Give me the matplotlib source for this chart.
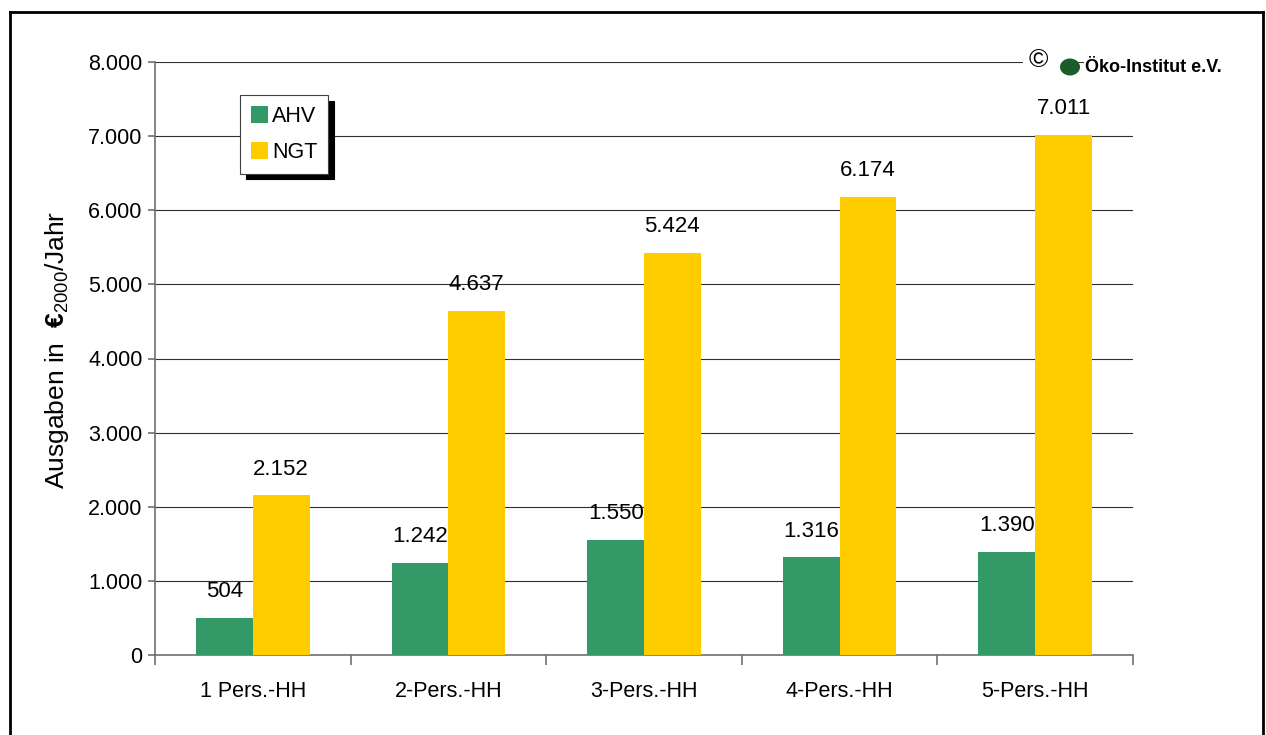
import matplotlib
matplotlib.use("Agg")
import matplotlib.pyplot as plt
from matplotlib.lines import Line2D
from matplotlib.patches import Rectangle, Ellipse
from matplotlib.ticker import FuncFormatter
import numpy as np

categories = ["1 Pers.-HH", "2-Pers.-HH", "3-Pers.-HH", "4-Pers.-HH", "5-Pers.-HH"]
ahv = [504, 1242, 1550, 1316, 1390]
ngt = [2152, 4637, 5424, 6174, 7011]
series_names = ["AHV", "NGT"]

GREEN = "#339966"
YELLOW = "#ffcc00"
W, H = 1266, 735


def de_fmt(v):
    # german thousands separator
    return f"{int(round(v)):,}".replace(",", ".")


plt.rcParams["font.family"] = ["Liberation Sans", "DejaVu Sans"]
plt.rcParams["mathtext.fontset"] = "custom"
plt.rcParams["mathtext.rm"] = "Liberation Sans"
plt.rcParams["mathtext.bf"] = "Liberation Sans:bold"
fig = plt.figure(figsize=(W / 100, H / 100), dpi=100)
ax = fig.add_axes([155 / W, 1 - 655 / H, (1133 - 155) / W, (655 - 62) / H])

x = np.arange(len(categories))
bw = 0.29
b1 = ax.bar(x - bw / 2, ahv, bw, color=GREEN, zorder=3)
b2 = ax.bar(x + bw / 2, ngt, bw, color=YELLOW, zorder=3)

for bars, vals in ((b1, ahv), (b2, ngt)):
    for r, v in zip(bars, vals):
        ax.annotate(de_fmt(v), (r.get_x() + r.get_width() / 2, v), xytext=(0, 19),
                    textcoords="offset points", ha="center", va="center", fontsize=16)

ax.set_xlim(-0.5, len(categories) - 0.5)
ax.set_ylim(0, 8000)
ax.set_yticks(np.arange(0, 8001, 1000))
ax.yaxis.set_major_formatter(FuncFormatter(lambda v, p: de_fmt(v)))
ax.set_xticks(x)
ax.set_xticklabels(categories)
ax.set_xticks(np.arange(-0.5, len(categories), 1), minor=True)
ax.tick_params(axis="x", which="major", length=0, pad=19, labelsize=15.5)
ax.tick_params(axis="x", which="minor", length=7, color="#707070", width=1.2)
ax.tick_params(axis="y", length=5, color="#707070", width=1.2, labelsize=15.5, pad=4)

ax.grid(axis="y", color="#303030", linewidth=0.8, zorder=0)
for s in ("top", "right"):
    ax.spines[s].set_visible(False)
for s in ("left", "bottom"):
    ax.spines[s].set_color("#707070")
    ax.spines[s].set_linewidth(1.2)

fig.text(57 / W, 1 - 350 / H, r"Ausgaben in  $\mathbf{€}_{\mathrm{2000}}$/Jahr", rotation=90,
         ha="center", va="center", fontsize=19)

# legend with shadow
leg = ax.legend([b1, b2], series_names, loc="upper left",
                bbox_to_anchor=((240 - 155) / (1133 - 155), (655 - 95) / (655 - 62)),
                fontsize=15.5, frameon=True, fancybox=False,
                shadow={"color": "black", "alpha": 1, "ox": 4, "oy": -4},
                handlelength=0.8, handleheight=0.8, handletextpad=0.2,
                borderpad=0.5, labelspacing=0.7, borderaxespad=0)
leg.get_frame().set_edgecolor("#404040")
leg.get_frame().set_linewidth(0.8)
leg.set_zorder(5)

# copyright / logo
fig.text(1038 / W, 1 - 60 / H, "©", ha="center", va="center", fontsize=19,
         bbox=dict(facecolor="white", edgecolor="none", pad=4))
fig.patches.append(Rectangle((1050 / W, 1 - 80 / H), 14 / W, 34 / H, transform=fig.transFigure,
                             facecolor="white", edgecolor="none"))
fig.patches.append(Ellipse((1070 / W, 1 - 67 / H), 20 / W, 17 / H, transform=fig.transFigure,
                           facecolor="#1a5c2a", edgecolor="none"))
fig.text(1085 / W, 1 - 67 / H, "Öko-Institut e.V.", ha="left", va="center", fontsize=13,
         fontweight="bold", bbox=dict(facecolor="white", edgecolor="none", pad=1))

# outer frame (open at bottom)
lx, rx, ty = 10 / W, 1263 / W, 1 - 12 / H
for xs, ys in (([lx, lx], [0, ty]), ([lx, rx], [ty, ty]), ([rx, rx], [ty, 0])):
    fig.add_artist(Line2D(xs, ys, color="black", linewidth=2, transform=fig.transFigure))

fig.savefig("out.png", dpi=100)
